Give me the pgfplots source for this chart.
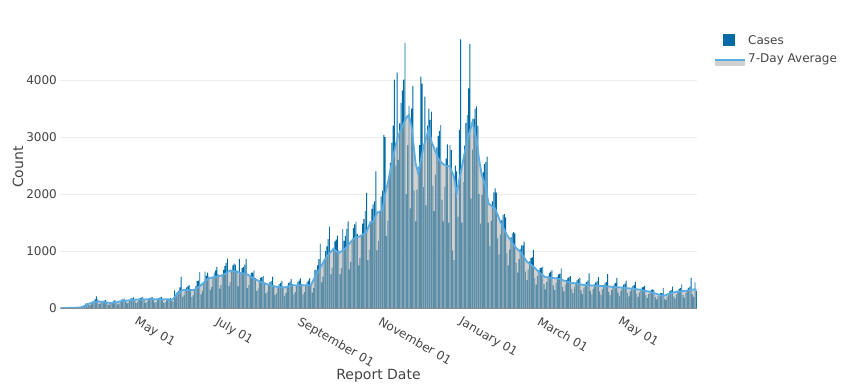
\documentclass[border=0pt]{standalone}
\usepackage{pgfplots}
\pgfplotsset{compat=1.18}
\usepackage{pgfplotstable}
\usepackage{fontspec}
\setmainfont{DejaVu Sans}
\definecolor{barblue}{RGB}{0,107,164}
\definecolor{fillgray}{RGB}{171,171,171}
\definecolor{linecol}{RGB}{90,172,226}
\definecolor{txt}{RGB}{68,68,68}
\definecolor{gridc}{RGB}{236,236,236}
\pgfplotstableread[row sep=\\]{
d c a\\
6 0 0\\ 7 0 0\\ 8 1 1\\ 9 0 1\\ 10 2 1\\ 11 1 1\\ 12 3 2\\ 13 2 2\\ 14 2 3\\ 15 3 4\\
16 5 4\\ 17 6 5\\ 18 7 6\\ 19 9 7\\ 20 8 8\\ 21 6 10\\ 22 13 18\\ 23 26 26\\ 24 42 35\\ 25 75 50\\
26 83 64\\ 27 76 72\\ 28 48 80\\ 29 62 88\\ 30 110 95\\ 31 125 100\\ 32 150 106\\ 33 205 112\\ 34 150 117\\ 35 70 114\\
36 80 111\\ 37 120 108\\ 38 125 105\\ 39 130 102\\ 40 140 99\\ 41 100 96\\ 42 56 93\\ 43 63 90\\ 44 90 88\\ 45 105 91\\
46 115 94\\ 47 140 97\\ 48 105 100\\ 49 64 106\\ 50 78 111\\ 51 120 117\\ 52 145 120\\ 53 150 122\\ 54 165 125\\ 55 135 127\\
56 80 130\\ 57 95 133\\ 58 140 136\\ 59 165 140\\ 60 175 143\\ 61 185 146\\ 62 155 147\\ 63 90 148\\ 64 105 149\\ 65 150 150\\
66 175 150\\ 67 180 150\\ 68 195 151\\ 69 160 151\\ 70 90 151\\ 71 105 152\\ 72 155 152\\ 73 175 152\\ 74 180 152\\ 75 190 152\\
76 160 152\\ 77 95 152\\ 78 105 152\\ 79 150 152\\ 80 175 152\\ 81 185 152\\ 82 195 152\\ 83 160 152\\ 84 90 152\\ 85 105 152\\
86 155 152\\ 87 170 148\\ 88 165 140\\ 89 175 135\\ 90 150 145\\ 91 110 160\\ 92 310 190\\ 93 230 220\\ 94 280 250\\ 95 300 265\\
96 360 280\\ 97 545 295\\ 98 190 310\\ 99 220 320\\ 100 320 318\\ 101 360 315\\ 102 380 312\\ 103 400 310\\ 104 330 312\\ 105 190 315\\
106 220 318\\ 107 330 320\\ 108 385 335\\ 109 470 350\\ 110 480 365\\ 111 630 380\\ 112 240 400\\ 113 300 423\\ 114 450 446\\ 115 640 469\\
116 570 492\\ 117 620 515\\ 118 550 521\\ 119 320 527\\ 120 370 533\\ 121 540 539\\ 122 620 545\\ 123 660 550\\ 124 720 554\\ 125 590 558\\
126 340 563\\ 127 400 567\\ 128 580 578\\ 129 670 588\\ 130 740 599\\ 131 790 610\\ 132 865 627\\ 133 390 643\\ 134 460 660\\ 135 660 655\\
136 750 650\\ 137 780 645\\ 138 760 640\\ 139 660 634\\ 140 380 628\\ 141 860 621\\ 142 620 615\\ 143 700 610\\ 144 720 605\\ 145 760 600\\
146 860 595\\ 147 350 590\\ 148 400 575\\ 149 560 560\\ 150 620 545\\ 151 620 530\\ 152 660 515\\ 153 530 504\\ 154 300 494\\ 155 340 483\\
156 470 472\\ 157 530 461\\ 158 540 451\\ 159 560 440\\ 160 450 432\\ 161 255 425\\ 162 290 418\\ 163 410 410\\ 164 460 402\\ 165 470 395\\
166 550 388\\ 167 400 380\\ 168 225 377\\ 169 260 374\\ 170 370 370\\ 171 420 367\\ 172 440 364\\ 173 470 360\\ 174 375 357\\ 175 215 362\\
176 260 368\\ 177 370 373\\ 178 435 379\\ 179 460 384\\ 180 505 389\\ 181 415 395\\ 182 240 400\\ 183 280 400\\ 184 400 400\\ 185 460 400\\
186 480 400\\ 187 520 400\\ 188 420 400\\ 189 240 400\\ 190 280 400\\ 191 400 400\\ 192 460 400\\ 193 480 400\\ 194 520 400\\ 195 420 400\\
196 270 450\\ 197 350 500\\ 198 670 545\\ 199 670 584\\ 200 750 623\\ 201 860 662\\ 202 1130 700\\ 203 450 745\\ 204 550 790\\ 205 835 835\\
206 1000 866\\ 207 1080 898\\ 208 1210 929\\ 209 1430 960\\ 210 590 987\\ 211 710 1013\\ 212 1040 1040\\ 213 1170 1020\\ 214 1200 1000\\ 215 1270 980\\
216 1010 965\\ 217 590 980\\ 218 700 995\\ 219 1385 1010\\ 220 1180 1030\\ 221 1260 1050\\ 222 1390 1070\\ 223 1520 1099\\ 224 680 1128\\ 225 810 1157\\
226 1190 1186\\ 227 1400 1215\\ 228 1470 1224\\ 229 1510 1233\\ 230 1300 1242\\ 231 750 1251\\ 232 880 1260\\ 233 1270 1273\\ 234 1480 1287\\ 235 1560 1300\\
236 1700 1320\\ 237 2020 1340\\ 238 840 1397\\ 239 1020 1453\\ 240 1500 1510\\ 241 1740 1512\\ 242 1820 1515\\ 243 1870 1570\\ 244 2400 1625\\ 245 1010 1680\\
246 1180 1680\\ 247 1690 1693\\ 248 1960 1707\\ 249 2060 1720\\ 250 3040 1860\\ 251 3000 2000\\ 252 1260 2095\\ 253 1530 2190\\ 254 2310 2307\\ 255 2550 2423\\
256 2900 2540\\ 257 3200 2647\\ 258 4010 2753\\ 259 2500 2860\\ 260 4130 2948\\ 261 2600 3035\\ 262 3240 3083\\ 263 3600 3132\\ 264 3820 3180\\ 265 4010 3240\\
266 4655 3300\\ 267 2000 3340\\ 268 2860 3370\\ 269 3550 3385\\ 270 1750 3280\\ 271 3500 3180\\ 272 3895 2967\\ 273 2060 2753\\ 274 1520 2540\\ 275 2080 2453\\
276 2480 2365\\ 277 2860 2483\\ 278 4060 2600\\ 279 3940 2715\\ 280 2120 2830\\ 281 3710 2910\\ 282 1800 2990\\ 283 3200 3070\\ 284 3500 3150\\ 285 3300 3035\\
286 3445 2920\\ 287 2150 2863\\ 288 1700 2807\\ 289 2340 2750\\ 290 2820 2688\\ 291 3020 2625\\ 292 3110 2597\\ 293 3210 2568\\ 294 1900 2540\\ 295 1520 2525\\
296 2130 2510\\ 297 2620 2500\\ 298 2870 2495\\ 299 1500 2490\\ 300 2860 2480\\ 301 2770 2422\\ 302 1010 2363\\ 303 840 2305\\ 304 2500 2158\\ 305 2400 2010\\
306 1600 2130\\ 307 3125 2250\\ 308 4715 2367\\ 309 1500 2483\\ 310 2210 2600\\ 311 2850 2717\\ 312 3250 2833\\ 313 3385 2950\\ 314 3855 3030\\ 315 4630 3110\\
316 1920 3190\\ 317 2780 3270\\ 318 3320 3163\\ 319 3500 3057\\ 320 3540 2950\\ 321 3200 2775\\ 322 2000 2600\\ 323 1480 2468\\ 324 1980 2335\\ 325 2380 2267\\
326 2530 2198\\ 327 2560 2130\\ 328 2655 1983\\ 329 1500 1835\\ 330 1090 1817\\ 331 1530 1798\\ 332 1870 1780\\ 333 2030 1765\\ 334 2100 1750\\ 335 2025 1691\\
336 1220 1633\\ 337 940 1574\\ 338 1290 1515\\ 339 1540 1468\\ 340 1630 1421\\ 341 1650 1374\\ 342 1590 1327\\ 343 960 1280\\ 344 750 1246\\ 345 1030 1212\\
346 1240 1178\\ 347 1310 1143\\ 348 1330 1109\\ 349 1310 1075\\ 350 790 1054\\ 351 620 1033\\ 352 860 1011\\ 353 1040 990\\ 354 1100 955\\ 355 1100 920\\
356 1165 885\\ 357 640 850\\ 358 490 815\\ 359 680 797\\ 360 820 779\\ 361 875 761\\ 362 890 743\\ 363 1015 725\\ 364 530 702\\ 365 410 679\\
366 560 656\\ 367 665 633\\ 368 700 610\\ 369 710 593\\ 370 725 575\\ 371 420 558\\ 372 325 540\\ 373 460 538\\ 374 565 536\\ 375 615 533\\
376 640 531\\ 377 665 529\\ 378 395 527\\ 379 315 524\\ 380 445 522\\ 381 545 520\\ 382 590 512\\ 383 605 505\\ 384 695 497\\ 385 370 490\\
386 290 482\\ 387 405 475\\ 388 490 467\\ 389 530 460\\ 390 545 452\\ 391 560 445\\ 392 330 441\\ 393 260 437\\ 394 370 433\\ 395 450 429\\
396 490 425\\ 397 505 421\\ 398 530 417\\ 399 310 413\\ 400 245 409\\ 401 345 405\\ 402 425 404\\ 403 460 402\\ 404 480 400\\ 405 610 399\\
406 300 398\\ 407 240 396\\ 408 335 395\\ 409 415 393\\ 410 450 392\\ 411 470 390\\ 412 540 389\\ 413 290 387\\ 414 230 386\\ 415 325 384\\
416 400 383\\ 417 440 381\\ 418 455 380\\ 419 595 378\\ 420 285 377\\ 421 225 375\\ 422 315 373\\ 423 390 371\\ 424 425 369\\ 425 440 367\\
426 530 365\\ 427 270 363\\ 428 215 361\\ 429 305 359\\ 430 375 357\\ 431 410 355\\ 432 425 353\\ 433 480 350\\ 434 260 348\\ 435 205 345\\
436 290 343\\ 437 355 340\\ 438 390 338\\ 439 400 335\\ 440 460 333\\ 441 250 330\\ 442 195 326\\ 443 275 321\\ 444 335 317\\ 445 360 312\\
446 370 308\\ 447 390 303\\ 448 225 299\\ 449 175 294\\ 450 245 290\\ 451 300 285\\ 452 320 278\\ 453 325 270\\ 454 315 263\\ 455 190 255\\
456 150 248\\ 457 205 240\\ 458 245 233\\ 459 260 225\\ 460 260 218\\ 461 355 210\\ 462 165 219\\ 463 140 229\\ 464 200 238\\ 465 260 248\\
466 295 257\\ 467 315 263\\ 468 375 268\\ 469 205 274\\ 470 165 279\\ 471 240 285\\ 472 300 288\\ 473 335 290\\ 474 350 293\\ 475 415 295\\
476 225 298\\ 477 180 300\\ 478 260 303\\ 479 320 305\\ 480 355 309\\ 481 375 313\\ 482 530 317\\ 483 240 321\\ 484 195 326\\ 485 450 330\\
486 300 318\\
}\casedata
\begin{document}
\begin{tikzpicture}
\path[use as bounding box] (0,0) rectangle (857pt,389pt);
\begin{axis}[
  at={(60pt,81pt)}, anchor=south west,
  scale only axis, width=637pt, height=282pt,
  xmin=5.5, xmax=486.5, ymin=0, ymax=4950,
  xtick={61,122,184,245,306,365,426},
  xticklabels={May 01,July 01,September 01,November 01,January 01,March 01,May 01},
  ytick={0,1000,2000,3000,4000},
  scaled y ticks=false,
  /pgf/number format/1000 sep={},
  /pgf/number format/assume math mode=true,
  ymajorgrids, grid style={gridc, line width=1pt},
  axis line style={draw=none},
  major tick length=0pt,
  tick label style={font=\fontsize{12}{14}\selectfont, text=txt},
  xticklabel style={yshift=-8pt, xshift=5pt, rotate=-30, anchor=north west, inner sep=0pt},
  yticklabel style={anchor=east, inner sep=0pt, xshift=-3pt},
  xlabel={Report Date}, ylabel={Count},
  every axis x label/.style={at={(axis description cs:0.5,-0.2411)}, anchor=center,
    font=\fontsize{14}{16}\selectfont, text=txt},
  every axis y label/.style={at={(axis description cs:-0.0659,0.5)}, rotate=90, anchor=center,
    font=\fontsize{14}{16}\selectfont, text=txt},
  legend style={at={(1,1)}, anchor=north west, xshift=17pt, yshift=-7pt, draw=none, fill=none,
    font=\fontsize{12}{14}\selectfont, text=txt, row sep=4pt, inner sep=0pt,
    /tikz/every even column/.style={column sep=8pt}},
  legend cell align=left,
]
\addplot[ybar, bar width=0.7, fill=barblue, draw=none, forget plot] table[x=d, y=c] {\casedata};
\addplot[draw=none, fill=fillgray, fill opacity=0.55, forget plot] table[x=d, y=a] {\casedata} \closedcycle;
\addplot[linecol, line width=1.8pt, forget plot] table[x=d, y=a] {\casedata};
\draw[black!45, line width=1pt] (rel axis cs:0,0) -- (rel axis cs:1,0);
\addlegendimage{legend image code/.code={\path[draw=none] (0pt,0pt) rectangle (30pt,0pt); \fill[barblue, draw=none] (8pt,-6pt) rectangle (20pt,6pt);}}
\addlegendentry{Cases}
\addlegendimage{legend image code/.code={\fill[fillgray, opacity=0.55, draw=none] (0pt,-7pt) rectangle (30pt,-1pt); \draw[linecol, line width=2pt] (0pt,-1pt) -- (30pt,-1pt);}}
\addlegendentry{7-Day Average}
\end{axis}
\end{tikzpicture}
\end{document}
